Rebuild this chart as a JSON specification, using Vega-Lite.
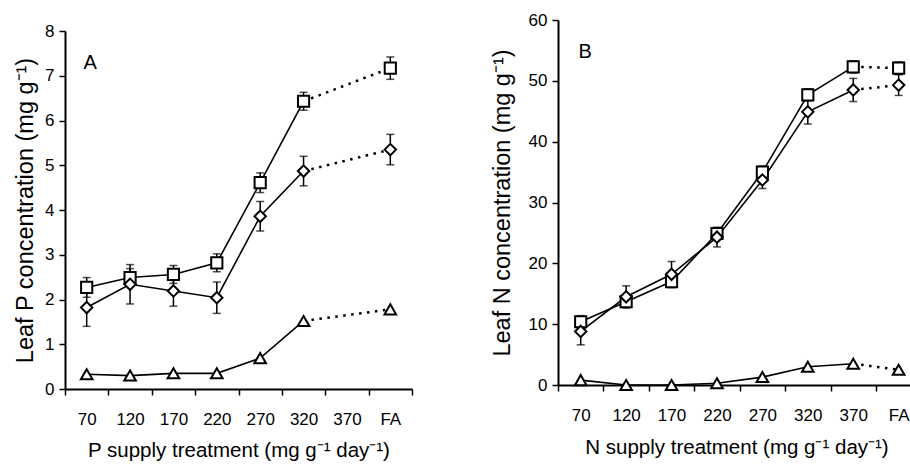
{
  "$schema": "https://vega.github.io/schema/vega-lite/v6.json",
  "background": "white",
  "padding": {"left": 13, "top": 11, "right": 0, "bottom": 0},
  "spacing": 77,
  "datasets": {
    "A": [
      {"s": "sq", "x": 70, "v": 2.27, "e": 0.22},
      {"s": "sq", "x": 120, "v": 2.49, "e": 0.2},
      {"s": "sq", "x": 170, "v": 2.56, "e": 0.2},
      {"s": "sq", "x": 220, "v": 2.82, "e": 0.2},
      {"s": "sq", "x": 270, "v": 4.61, "e": 0.22},
      {"s": "sq", "x": 320, "v": 6.43, "e": 0.2},
      {"s": "sq", "x": 420, "v": 7.17, "e": 0.25},
      {"s": "di", "x": 70, "v": 1.82, "e": 0.42},
      {"s": "di", "x": 120, "v": 2.34, "e": 0.44},
      {"s": "di", "x": 170, "v": 2.19, "e": 0.34},
      {"s": "di", "x": 220, "v": 2.04, "e": 0.35},
      {"s": "di", "x": 270, "v": 3.86, "e": 0.33},
      {"s": "di", "x": 320, "v": 4.87, "e": 0.33},
      {"s": "di", "x": 420, "v": 5.35, "e": 0.34},
      {"s": "tr", "x": 70, "v": 0.33, "e": 0},
      {"s": "tr", "x": 120, "v": 0.3, "e": 0},
      {"s": "tr", "x": 170, "v": 0.35, "e": 0},
      {"s": "tr", "x": 220, "v": 0.35, "e": 0},
      {"s": "tr", "x": 270, "v": 0.69, "e": 0},
      {"s": "tr", "x": 320, "v": 1.52, "e": 0},
      {"s": "tr", "x": 420, "v": 1.78, "e": 0}
    ],
    "B": [
      {"s": "sq", "x": 70, "v": 10.4, "e": 1},
      {"s": "sq", "x": 120, "v": 13.7, "e": 1},
      {"s": "sq", "x": 170, "v": 17.0, "e": 1},
      {"s": "sq", "x": 220, "v": 24.9, "e": 1},
      {"s": "sq", "x": 270, "v": 35.0, "e": 1},
      {"s": "sq", "x": 320, "v": 47.7, "e": 1},
      {"s": "sq", "x": 370, "v": 52.3, "e": 1},
      {"s": "sq", "x": 420, "v": 52.1, "e": 1},
      {"s": "di", "x": 70, "v": 8.8, "e": 2.2},
      {"s": "di", "x": 120, "v": 14.5, "e": 1.8},
      {"s": "di", "x": 170, "v": 18.2, "e": 2.1},
      {"s": "di", "x": 220, "v": 24.3, "e": 1.6},
      {"s": "di", "x": 270, "v": 33.7, "e": 1.4},
      {"s": "di", "x": 320, "v": 44.9, "e": 2.0},
      {"s": "di", "x": 370, "v": 48.5, "e": 1.9},
      {"s": "di", "x": 420, "v": 49.3, "e": 1.7},
      {"s": "tr", "x": 70, "v": 0.8, "e": 0},
      {"s": "tr", "x": 120, "v": 0, "e": 0},
      {"s": "tr", "x": 170, "v": 0, "e": 0},
      {"s": "tr", "x": 220, "v": 0.3, "e": 0},
      {"s": "tr", "x": 270, "v": 1.3, "e": 0},
      {"s": "tr", "x": 320, "v": 3.0, "e": 0},
      {"s": "tr", "x": 370, "v": 3.5, "e": 0},
      {"s": "tr", "x": 420, "v": 2.5, "e": 0}
    ],
    "one": [{"k": 1}]
  },
  "config": {
    "font": "Liberation Sans",
    "view": {"stroke": null},
    "axis": {
      "grid": false,
      "domainColor": "#000",
      "domainWidth": 2,
      "tickColor": "#000",
      "tickWidth": 1.5,
      "tickSize": 6,
      "labelColor": "#000",
      "labelFont": "Liberation Sans",
      "labelFontSize": 17,
      "labelPadding": 5,
      "titleColor": "#000",
      "titleFont": "Liberation Sans",
      "titleFontSize": 20.5,
      "titleFontWeight": "normal",
      "labelOverlap": false,
      "labelFlush": false
    }
  },
  "hconcat": [
    {
      "width": 347,
      "height": 369,
      "data": {"name": "A"},
      "encoding": {
        "x": {
          "field": "x", "type": "quantitative",
          "scale": {"domain": [45, 445], "nice": false, "zero": false},
          "axis": {
            "title": "P supply treatment (mg g⁻¹ day⁻¹)",
            "values": [45, 70, 95, 120, 145, 170, 195, 220, 245, 270, 295, 320, 345, 370, 395, 420, 445],
            "labelExpr": "datum.value == 420 ? 'FA' : ((datum.value - 70) % 50 == 0 ? datum.label : '')",
            "tickOpacity": {"condition": {"test": "(datum.value - 45) % 50 == 0", "value": 1}, "value": 0},
            "labelPadding": 16,
            "titlePadding": 13
          }
        },
        "y": {
          "field": "v", "type": "quantitative",
          "scale": {"domain": [0, 8], "range": [369, 11], "nice": false},
          "axis": {
            "title": "Leaf P concentration (mg g⁻¹)",
            "titleFontSize": 23.5,
            "values": [0, 1, 2, 3, 4, 5, 6, 7, 8],
            "titlePadding": 7
          }
        }
      },
      "layer": [
        {
          "data": {"name": "one"},
          "mark": {"type": "rule", "color": "#000", "strokeWidth": 2},
          "encoding": {"x": {"datum": 445, "type": "quantitative"}, "y": {"datum": 0, "type": "quantitative"}, "y2": {"datum": 8}}
        },
        {
          "data": {"name": "one"},
          "mark": {"type": "rule", "color": "#000", "strokeWidth": 2},
          "encoding": {"y": {"datum": 8, "type": "quantitative"}, "x": {"datum": 45, "type": "quantitative"}, "x2": {"datum": 445}}
        },
        {
          "transform": [{"filter": "datum.x <= 320"}],
          "mark": {"type": "line", "color": "#000", "strokeWidth": 1.6},
          "encoding": {"detail": {"field": "s"}}
        },
        {
          "transform": [{"filter": "datum.x >= 320"}],
          "mark": {"type": "line", "color": "#000", "strokeWidth": 2.5, "strokeDash": [2.5, 5.5]},
          "encoding": {"detail": {"field": "s"}}
        },
        {
          "transform": [{"filter": "datum.e > 0"}],
          "mark": {"type": "errorbar", "color": "#000", "ticks": {"size": 8, "thickness": 1.5, "color": "#000"}, "rule": {"strokeWidth": 1.5}},
          "encoding": {"yError": {"field": "e"}}
        },
        {
          "mark": {"type": "point", "filled": true, "fill": "white", "stroke": "#000", "strokeWidth": 2, "opacity": 1},
          "encoding": {
            "shape": {"field": "s", "type": "nominal", "scale": {"domain": ["sq", "di", "tr"], "range": ["square", "diamond", "triangle-up"]}, "legend": null},
            "size": {"field": "s", "type": "ordinal", "scale": {"domain": ["sq", "di", "tr"], "range": [125, 135, 195]}, "legend": null}
          }
        },
        {
          "transform": [{"filter": "datum.s == 'sq' && datum.x == 70"}],
          "mark": {"type": "text", "fontSize": 20, "fill": "#000", "opacity": 1, "align": "center", "baseline": "middle"},
          "encoding": {"x": {"datum": 74}, "y": {"datum": 7.28}, "text": {"value": "A"}}
        }
      ]
    },
    {
      "width": 357,
      "height": 365,
      "data": {"name": "B"},
      "encoding": {
        "x": {
          "field": "x", "type": "quantitative",
          "scale": {"domain": [45, 438], "nice": false, "zero": false},
          "axis": {
            "title": "N supply treatment (mg g⁻¹ day⁻¹)",
            "values": [45, 70, 95, 120, 145, 170, 195, 220, 245, 270, 295, 320, 345, 370, 395, 420],
            "labelExpr": "datum.value == 420 ? 'FA' : ((datum.value - 70) % 50 == 0 ? datum.label : '')",
            "tickOpacity": {"condition": {"test": "(datum.value - 45) % 50 == 0", "value": 1}, "value": 0},
            "labelPadding": 16,
            "titlePadding": 14
          }
        },
        "y": {
          "field": "v", "type": "quantitative",
          "scale": {"domain": [0, 60], "nice": false},
          "axis": {
            "title": "Leaf N concentration (mg g⁻¹)",
            "titleFontSize": 23.5,
            "values": [0, 10, 20, 30, 40, 50, 60],
            "titlePadding": 14
          }
        }
      },
      "layer": [
        {
          "data": {"name": "one"},
          "mark": {"type": "rule", "color": "#000", "strokeWidth": 2.5},
          "encoding": {"y": {"datum": 60, "type": "quantitative"}, "x": {"datum": 45, "type": "quantitative"}, "x2": {"datum": 438}}
        },
        {
          "transform": [{"filter": "datum.x <= 370"}],
          "mark": {"type": "line", "color": "#000", "strokeWidth": 1.6},
          "encoding": {"detail": {"field": "s"}}
        },
        {
          "transform": [{"filter": "datum.x >= 370"}],
          "mark": {"type": "line", "color": "#000", "strokeWidth": 2.5, "strokeDash": [2.5, 5.5]},
          "encoding": {"detail": {"field": "s"}}
        },
        {
          "transform": [{"filter": "datum.e > 0"}],
          "mark": {"type": "errorbar", "color": "#000", "ticks": {"size": 8, "thickness": 1.5, "color": "#000"}, "rule": {"strokeWidth": 1.5}},
          "encoding": {"yError": {"field": "e"}}
        },
        {
          "mark": {"type": "point", "filled": true, "fill": "white", "stroke": "#000", "strokeWidth": 2, "opacity": 1},
          "encoding": {
            "shape": {"field": "s", "type": "nominal", "scale": {"domain": ["sq", "di", "tr"], "range": ["square", "diamond", "triangle-up"]}, "legend": null},
            "size": {"field": "s", "type": "ordinal", "scale": {"domain": ["sq", "di", "tr"], "range": [155, 150, 200]}, "legend": null}
          }
        },
        {
          "transform": [{"filter": "datum.s == 'sq' && datum.x == 70"}],
          "mark": {"type": "text", "fontSize": 20, "fill": "#000", "opacity": 1, "align": "center", "baseline": "middle"},
          "encoding": {"x": {"datum": 75}, "y": {"datum": 54.8}, "text": {"value": "B"}}
        }
      ]
    }
  ]
}
